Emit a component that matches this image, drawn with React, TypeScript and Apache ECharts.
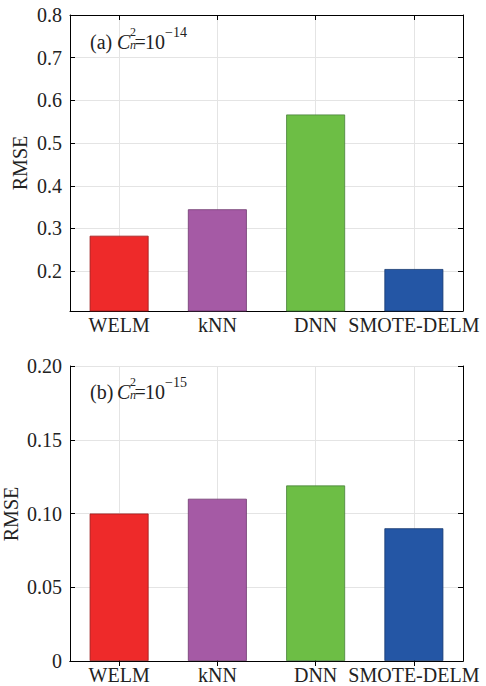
import React, { useEffect, useRef } from "react";
import * as echarts from "echarts";

const categories = ["WELM", "kNN", "DNN", "SMOTE-DELM"];
const rmseA = [0.283, 0.345, 0.567, 0.205];
const rmseB = [0.1, 0.11, 0.119, 0.09];
const barColors = ["#EE2A2A", "#A55AA5", "#6DBE45", "#2456A5"];
const barBorders = ["#9a1c1c", "#6e3a6e", "#47803a", "#173a70"];
const ticksA = [0.2, 0.3, 0.4, 0.5, 0.6, 0.7, 0.8];
const ticksB = [0, 0.05, 0.1, 0.15, 0.2];
const yName = "RMSE";

const FONT = "Liberation Serif";

function near(v: number, arr: number[]) {
  return arr.some((t) => Math.abs(t - v) < 1e-6);
}

export default function App() {
  const ref = useRef<HTMLDivElement>(null);
  useEffect(() => {
    if (!ref.current) return;
    const chart = echarts.init(ref.current, undefined, { renderer: "svg" });
    const axisLine = { show: true, lineStyle: { color: "#000", width: 1 } };
    const tick = { show: true, inside: true, length: 5, lineStyle: { color: "#000", width: 1 } };
    const grid = { show: false };
    const splitLine = { show: true, lineStyle: { color: "#e4e4e4", width: 1 } };
    const catAxis = (gridIndex: number, position: string, showLabel: boolean) => ({
      type: "category",
      gridIndex,
      position,
      data: categories,
      boundaryGap: true,
      axisLine,
      axisTick: { ...tick, alignWithLabel: true, interval: 0 },
      axisLabel: showLabel
        ? { show: true, interval: 0, hideOverlap: false, color: "#222", fontFamily: FONT, fontSize: 20, margin: 4 }
        : { show: false },
      splitLine: showLabel ? { ...splitLine, alignWithLabel: true, interval: 0 } : { show: false },
    });
    const valAxis = (
      gridIndex: number,
      position: string,
      min: number,
      max: number,
      splitNumber: number,
      ticks: number[],
      fmt: (v: number) => string,
      showLabel: boolean
    ) => ({
      type: "value",
      gridIndex,
      position,
      min,
      max,
      splitNumber,
      axisLine,
      axisTick: tick,
      axisLabel: showLabel
        ? {
            show: true,
            color: "#222",
            fontFamily: FONT,
            fontSize: 20,
            margin: 8,
            showMinLabel: true,
            formatter: (v: number) => (near(v, ticks) ? fmt(v) : ""),
          }
        : { show: false },
      splitLine: showLabel ? splitLine : { show: false },
    });

    const txt = (x: number, y: number, text: string, size: number, italic = false) => ({
      type: "text",
      x,
      y,
      style: {
        text,
        fontFamily: FONT,
        fontSize: size,
        fontStyle: italic ? "italic" : "normal",
        fill: "#222",
        align: "left",
        verticalAlign: "middle",
      },
      z: 100,
    });
    const annot = (label: string, exp: string, dy: number) => [
      txt(90, 41.5 + dy, label, 20),
      txt(117, 41.5 + dy, "C", 20, true),
      txt(130, 31.5 + dy, "2", 12),
      txt(130, 44.7 + dy, "n", 12, true),
      txt(134.5, 41.5 + dy, "=", 20),
      txt(145, 41.5 + dy, "10", 20),
      txt(165, 32.5 + dy, exp, 14),
    ];
    const nameText = (x: number, y: number) => ({
      type: "text",
      x,
      y,
      rotation: Math.PI / 2,
      style: {
        text: yName,
        fontFamily: FONT,
        fontSize: 20,
        fill: "#222",
        align: "center",
        verticalAlign: "middle",
      },
    });

    const bars = (vals: number[], xi: number, yi: number) => ({
      type: "bar",
      xAxisIndex: xi,
      yAxisIndex: yi,
      barWidth: "60%",
      data: vals.map((v, i) => ({
        value: v,
        itemStyle: { color: barColors[i], borderColor: barBorders[i], borderWidth: 0.8 },
      })),
    });

    chart.setOption({
      animation: false,
      backgroundColor: "#fff",
      textStyle: { fontFamily: FONT },
      grid: [
        { ...grid, left: 70, right: 23, top: 15, height: 296 },
        { ...grid, left: 70, right: 23, top: 366, height: 295 },
      ],
      xAxis: [
        catAxis(0, "bottom", true),
        catAxis(0, "top", false),
        catAxis(1, "bottom", true),
        catAxis(1, "top", false),
      ],
      yAxis: [
        valAxis(0, "left", 0.1067, 0.8, 7, ticksA, (v) => v.toFixed(1), true),
        valAxis(0, "right", 0.1067, 0.8, 7, ticksA, (v) => v.toFixed(1), false),
        valAxis(1, "left", 0, 0.2, 4, ticksB, (v) => (v === 0 ? "0" : v.toFixed(2)), true),
        valAxis(1, "right", 0, 0.2, 4, ticksB, (v) => (v === 0 ? "0" : v.toFixed(2)), false),
      ],
      series: [bars(rmseA, 0, 0), bars(rmseB, 2, 2)],
      graphic: [
        ...annot("(a)", "−14", 0),
        ...annot("(b)", "−15", 350),
        nameText(20, 163),
        nameText(11, 514),
      ],
    });
    return () => chart.dispose();
  }, []);
  return (
    <div
      ref={ref}
      style={{ position: "fixed", left: 0, top: 0, width: 486, height: 686 }}
    />
  );
}
